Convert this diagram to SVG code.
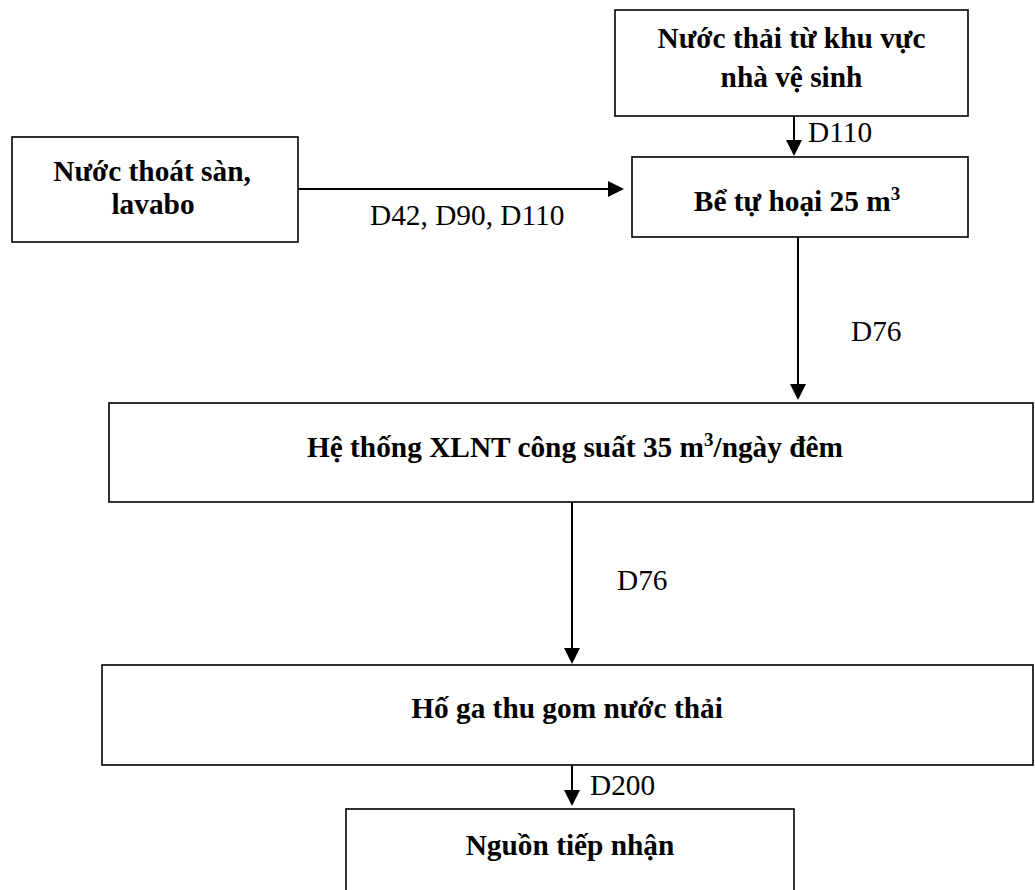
<svg xmlns="http://www.w3.org/2000/svg" width="1035" height="890" viewBox="0 0 1035 890">
<style>
.box{fill:#fff;stroke:#000;stroke-width:1.6}
.t{font-family:"Liberation Serif","Times New Roman",serif;font-size:29.33px;font-weight:bold;fill:#000;text-anchor:middle}
.lbl{font-family:"Liberation Serif","Times New Roman",serif;font-size:29.33px;fill:#000}
.sup{font-size:19px}
.con{stroke:#000;stroke-width:2;fill:none;marker-end:url(#ah)}
</style>
<defs>
<marker id="ah" viewBox="0 0 16 16" refX="14" refY="8" markerWidth="16" markerHeight="16" markerUnits="userSpaceOnUse" orient="auto">
<path d="M0,0 L16,8 L0,16 Z" fill="#000"/>
</marker>
</defs>
<rect width="1035" height="890" fill="#fff"/>
<g id="n-nha-ve-sinh">
<rect class="box" x="615" y="10" width="353" height="106"/>
<text class="t" x="791.5" y="48">Nước thải từ khu vực</text>
<text class="t" x="791.5" y="87">nhà vệ sinh</text>
</g>
<g id="n-thoat-san">
<rect class="box" x="12" y="137" width="286" height="105"/>
<text class="t" x="152" y="181">Nước thoát sàn,</text>
<text class="t" x="153" y="214">lavabo</text>
</g>
<g id="n-be-tu-hoai">
<rect class="box" x="632" y="157" width="336" height="80"/>
<text class="t" x="797" y="211">Bể tự hoại 25 m<tspan class="sup" dy="-11">3</tspan></text>
</g>
<g id="n-xlnt">
<rect class="box" x="109" y="403" width="924" height="99"/>
<text class="t" x="575" y="457">Hệ thống XLNT công suất 35 m<tspan class="sup" dy="-11">3</tspan><tspan dy="11">/ngày đêm</tspan></text>
</g>
<g id="n-ho-ga">
<rect class="box" x="102" y="665" width="931" height="100"/>
<text class="t" x="567" y="718">Hố ga thu gom nước thải</text>
</g>
<g id="n-nguon">
<rect class="box" x="346" y="809" width="448" height="100"/>
<text class="t" x="570" y="855">Nguồn tiếp nhận</text>
</g>
<g id="connectors">
<line class="con" x1="794" y1="116" x2="794" y2="154"/>
<line class="con" x1="298" y1="189" x2="622" y2="189"/>
<line class="con" x1="798" y1="237" x2="798" y2="398"/>
<line class="con" x1="572" y1="502" x2="572" y2="662"/>
<line class="con" x1="572" y1="765" x2="572" y2="804"/>
<text class="lbl" x="808" y="142">D110</text>
<text class="lbl" x="370" y="225">D42, D90, D110</text>
<text class="lbl" x="851" y="341">D76</text>
<text class="lbl" x="617" y="590">D76</text>
<text class="lbl" x="590" y="795">D200</text>
</g>
</svg>
